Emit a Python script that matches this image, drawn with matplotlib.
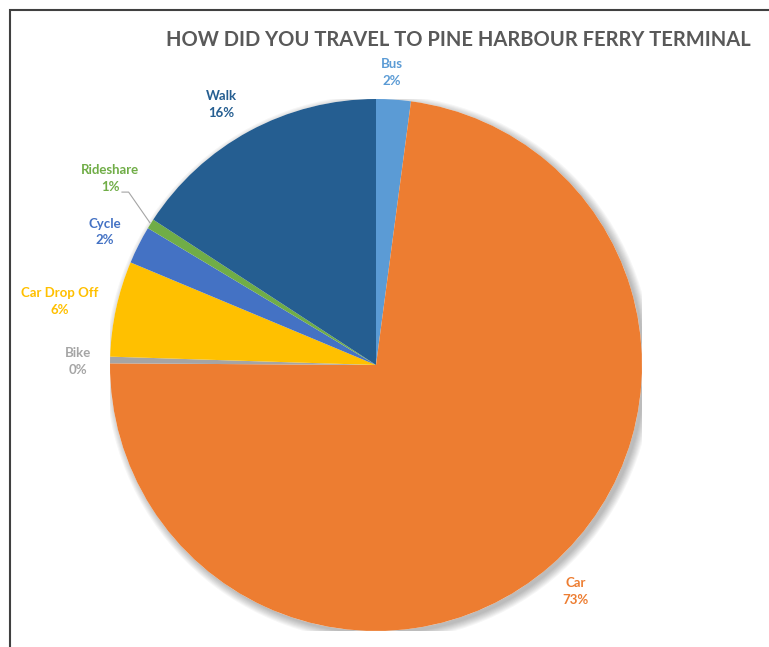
import matplotlib.pyplot as plt
from matplotlib.patches import Rectangle, Circle

# Данные опроса
modes = ['Bus', 'Car', 'Bike', 'Car Drop Off', 'Cycle', 'Rideshare', 'Walk']
shares = [2.1, 73.0, 0.4, 5.8, 2.3, 0.6, 15.8]
pct_labels = ['2%', '73%', '0%', '6%', '2%', '1%', '16%']
colors = ['#5B9BD5', '#ED7D31', '#A5A5A5', '#FFC000', '#4472C4', '#70AD47', '#255E91']

# Положения подписей (в координатах осей, радиус пирога = 1)
label_pos = {
    'Bus': (0.06, 1.10),
    'Car': (0.75, -0.85),
    'Bike': (-1.12, 0.015),
    'Car Drop Off': (-1.19, 0.24),
    'Cycle': (-1.02, 0.50),
    'Rideshare': (-1.00, 0.70),
    'Walk': (-0.58, 0.98),
}

W, H = 769, 647
fig = plt.figure(figsize=(W / 100, H / 100), dpi=100)

# Рамка слева и сверху
fig.patches.append(Rectangle((10 / W, -0.2), 1.5, (H - 10) / H + 0.2,
                             transform=fig.transFigure, fill=False,
                             edgecolor='#404040', linewidth=1.5))

cx, cy, r = 376, 365, 266
ax = fig.add_axes([(cx - r) / W, (H - cy - r) / H, 2 * r / W, 2 * r / H])
ax.set_xlim(-1, 1)
ax.set_ylim(-1, 1)
ax.set_aspect('equal')
ax.axis('off')

# Мягкая тень
for i in range(8):
    ax.add_patch(Circle((0.012, -0.012), 1.0 + i * 0.004, color='#000000',
                        alpha=0.035, lw=0, zorder=0))
ax.add_patch(Circle((0, 0), 1.0, color='white', lw=0, zorder=0.5))

ax.pie(shares, colors=colors, startangle=90, counterclock=False, radius=1,
       wedgeprops={'linewidth': 0}, frame=False)
ax.set_xlim(-1, 1)
ax.set_ylim(-1, 1)

for name, pct, col in zip(modes, pct_labels, colors):
    x, y = label_pos[name]
    ax.text(x, y, f'{name}\n{pct}', color=col, fontsize=9.5, fontweight='bold',
            family='Lato', ha='center', va='center', linespacing=1.5,
            clip_on=False)

# Линия-выноска для Rideshare
ax.plot([-0.955, -0.93, -0.85], [0.65, 0.65, 0.535], color='#A5A5A5',
        lw=0.8, clip_on=False)

fig.text(458 / W, 1 - 40 / H, 'HOW DID YOU TRAVEL TO PINE HARBOUR FERRY TERMINAL',
         ha='center', va='center', fontsize=14.5, fontweight='bold',
         color='#595959', family='Lato')

fig.savefig('out.png', dpi=100, facecolor='white')
